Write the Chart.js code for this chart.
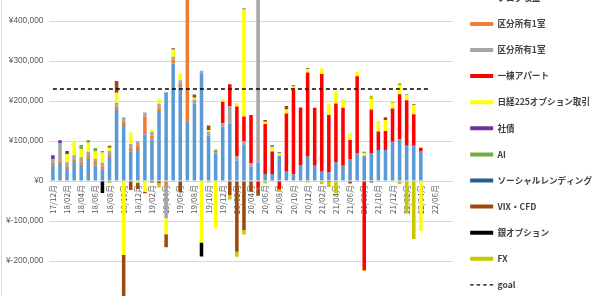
<!DOCTYPE html>
<html>
<head>
<meta charset="utf-8">
<script src="https://cdn.jsdelivr.net/npm/chart.js@4.4.1/dist/chart.umd.min.js"></script>
<style>
  html, body { margin: 0; padding: 0; width: 592px; height: 296px; overflow: hidden; background: #fff; }
  #wrap { position: absolute; left: 0; top: -40px; width: 602px; height: 381px; }
  #edge { position: absolute; left: 1px; top: 0; width: 1px; height: 296px; background: #d9d9d9; }
</style>
</head>
<body>
<div id="wrap"><canvas id="c"></canvas></div>
<div id="edge"></div>
<script>
// monthly income by source, yen
const _ = null;

const months = [
  '17/12月',
  '18/01月', '18/02月', '18/03月', '18/04月', '18/05月', '18/06月', '18/07月', '18/08月', '18/09月', '18/10月', '18/11月', '18/12月',
  '19/01月', '19/02月', '19/03月', '19/04月', '19/05月', '19/06月', '19/07月', '19/08月', '19/09月', '19/10月', '19/11月', '19/12月',
  '20/01月', '20/02月', '20/03月', '20/04月', '20/05月', '20/06月', '20/07月', '20/08月', '20/09月', '20/10月', '20/11月', '20/12月',
  '21/01月', '21/02月', '21/03月', '21/04月', '21/05月', '21/06月', '21/07月', '21/08月', '21/09月', '21/10月', '21/11月', '21/12月',
  '22/01月', '22/02月', '22/03月', '22/04月', '22/05月', '22/06月', '22/07月', ''
];

const yTicks = [-300000, -200000, -100000, 0, 100000, 200000, 300000, 400000, 500000];

const blog = [
  38000, 42500, 27500, 47500, 40800, 55800, 39000, 29000, 57500, 177500, 140000, 73300,
  80000, 116700, 104000, 175000, 221700, 294000, 233000, 148000, 194000, 267500, 113000, 67500,
  136000, 144000, 51000, 90000, 36000, 46000, 17500, 17500, 62500, 23000, 16700, 40000,
  61000, 38000, 25000, 21000, 46000, 38000, 55000, 69000, 62500, 69000, 77500, 77500,
  98000, 104000, 88000, 88000, 75000, _, _, _, _
];
const condoA = [
  7500, 6700, 8300, 6700, 7500, 6700, 8300, 7500, 7500, 8300, 8300, 10000,
  8300, 44000, 10000, 8300, -14000, 10000, 10800, 380000, _, _, _, _,
  _, _, _, _, _, _, _, _, _, _, _, _,
  _, _, _, _, _, _, _, _, _, _, _, _,
  _, _, _, _, _, _, _, _, _
];
const condoB = [
  9000, 45000, 10800, 10000, 10800, 10800, 8300, 9000, 10800, 10000, 10800, 9200,
  10800, 10800, 8300, 10000, -79000, 6700, 8300, _, 10000, 8300, 10000, 5800,
  8300, 43000, 10000, 10000, 8300, 480000, _, _, _, _, _, _,
  _, _, _, _, _, _, _, _, _, _, _, _,
  _, _, _, _, _, _, _, _, _
];
const apartment = [
  _, _, _, _, _, _, _, _, _, _, _, _,
  _, _, _, _, _, _, _, _, _, _, _, _,
  54000, 55000, 125000, 61000, 121000, -18000, 125000, 56000, -21000, 146000, 211000, 144000,
  210000, 145000, 242500, 144000, 148000, 145000, 47500, 193000, -222500, 110000, 46000, 47500,
  83000, 113000, 114000, 79000, 8300, _, _, _, _
];
const nikkei = [
  _, _, 20800, 35000, 20000, 22500, 18300, 25800, 7500, 25000, -185000, 29000,
  -4000, -26700, 5800, 12500, -40000, 18300, 16700, _, 4000, -154000, 4000, -118000,
  5800, _, 8300, 268000, _, _, 5800, 10000, 6700, 10000, 8300, _,
  9000, _, 14000, 27500, 31000, 21700, 16700, 11000, 8300, 26000, 26700, 27500,
  12500, 22500, 12500, 22500, -125000, _, _, _, _
];
const bonds = [
  10000, 7500, 7500, _, _, _, _, _, _, _, _, _,
  _, _, _, _, _, _, _, _, _, _, _, _,
  _, _, _, _, _, _, _, _, _, _, _, _,
  _, _, _, _, _, _, _, _, _, _, _, _,
  _, _, _, _, _, _, _, _, _
];
const ai = [
  _, _, _, _, 10800, 6700, 8300, _, _, _, _, _,
  _, _, _, _, _, _, _, _, _, _, _, _,
  _, _, _, _, _, _, _, 2500, _, _, _, _,
  _, _, _, _, _, _, _, _, _, _, _, _,
  _, 4000, 2500, _, _, _, _, _, _
];
const lending = [
  _, _, _, _, _, _, _, _, _, _, _, _,
  _, _, _, _, _, _, _, _, _, _, _, _,
  _, _, _, 2000, _, _, _, 2500, 2500, _, _, _,
  2000, _, _, _, _, _, _, _, 2500, _, _, _,
  _, _, _, _, _, _, _, _, _
];
const vixCfd = [
  _, _, _, _, _, _, _, 3300, 5000, 29000, -150000, -22500,
  -16000, -4000, -4000, -5000, -32500, _, -29000, _, 8300, _, 11700, 2500,
  _, -35000, -177000, -122500, -27000, -19000, 4000, 1500, _, 8300, 3300, _,
  _, _, _, -2500, _, _, -6000, _, _, -4000, _, 6700,
  _, _, _, 2500, _, _, _, _, _
];
const silver = [
  _, _, _, _, _, _, _, -30000, _, _, _, _,
  _, _, _, _, _, 2500, _, _, _, -35000, _, _,
  _, _, _, _, _, _, _, _, _, _, _, _,
  _, _, _, _, _, _, _, _, _, _, _, _,
  _, _, _, _, _, _, _, _, _
];
const fx = [
  _, _, _, _, _, _, _, _, -5000, _, _, _,
  _, _, _, -11000, _, _, _, _, _, _, -4000, 3300,
  _, -11000, -12500, -11000, _, _, -6000, _, -6000, _, _, _,
  -4000, _, -7500, -12500, -31000, _, _, _, -2500, 8300, _, _,
  4000, -7500, -81000, -145000, _, _, _, _, _
];
const goal = [
  230000, 230000, 230000, 230000, 230000, 230000, 230000, 230000, 230000, 230000, 230000, 230000,
  230000, 230000, 230000, 230000, 230000, 230000, 230000, 230000, 230000, 230000, 230000, 230000,
  230000, 230000, 230000, 230000, 230000, 230000, 230000, 230000, 230000, 230000, 230000, 230000,
  230000, 230000, 230000, 230000, 230000, 230000, 230000, 230000, 230000, 230000, 230000, 230000,
  230000, 230000, 230000, 230000, 230000, 230000, _, _, _
];

const bar = (label, data, color) => ({
  type: 'bar', label, data, backgroundColor: color, stack: 'income', order: 1,
  barPercentage: 0.5, categoryPercentage: 1.0
});

new Chart(document.getElementById('c'), {
  data: {
    labels: months,
    datasets: [
      bar('ブログ収益', blog, '#5b9bd5'),
      bar('区分所有1室', condoA, '#ed7d31'),
      bar('区分所有1室', condoB, '#a5a5a5'),
      bar('一棟アパート', apartment, '#ff0000'),
      bar('日経225オプション取引', nikkei, '#ffff00'),
      bar('社債', bonds, '#7030a0'),
      bar('AI', ai, '#70ad47'),
      bar('ソーシャルレンディング', lending, '#255e91'),
      bar('VIX・CFD', vixCfd, '#9e480e'),
      bar('銀オプション', silver, '#000000'),
      bar('FX', fx, '#c8c800'),
      {
        type: 'line', label: 'goal', data: goal, stack: 'goal', order: 0,
        borderColor: '#000', borderWidth: 1.3, borderDash: [4, 3],
        pointRadius: 0, fill: false
      }
    ]
  },
  options: {
    responsive: true,
    maintainAspectRatio: false,
    animation: false,
    layout: { padding: { left: 0, top: 16, right: 0, bottom: 20 } },
    plugins: {
      tooltip: { enabled: false },
      legend: {
        position: 'right',
        align: 'start',
        labels: {
          usePointStyle: true,
          pointStyleWidth: 23,
          padding: 17.5,
          color: '#404040',
          font: { family: "'Noto Sans CJK JP', 'Noto Sans'", size: 8.6, weight: 'bold' },
          generateLabels: chart => chart.data.datasets.map((ds, i) => ({
            text: ds.label,
            fillStyle: 'rgba(0,0,0,0)',
            strokeStyle: ds.type === 'line' ? ds.borderColor : ds.backgroundColor,
            lineWidth: ds.type === 'line' ? 1.2 : 4,
            lineDash: ds.type === 'line' ? [3.5, 3] : [],
            pointStyle: 'line',
            fontColor: '#404040',
            hidden: false,
            datasetIndex: i
          }))
        }
      }
    },
    scales: {
      x: {
        stacked: true,
        position: { y: 0 },
        z: 1,
        grid: { display: false, drawTicks: false },
        border: { color: '#d9d9d9' },
        ticks: {
          autoSkip: false, minRotation: 90, maxRotation: 90, padding: 4,
          color: '#595959',
          font: { family: "'Noto Sans CJK JP', 'Liberation Sans'", size: 8 },
          callback: (v, i) => (i % 2 === 0 ? months[i] : '')
        }
      },
      y: {
        stacked: true,
        min: -350000,
        max: 512500,
        afterBuildTicks: s => { s.ticks = yTicks.map(value => ({ value })); },
        grid: { color: '#d9d9d9', drawTicks: false },
        border: { display: false },
        ticks: {
          padding: 6, color: '#595959',
          font: { family: "'Liberation Sans'", size: 8.3 },
          callback: v => '¥' + v.toLocaleString('en-US')
        }
      }
    }
  }
});
</script>
</body>
</html>
